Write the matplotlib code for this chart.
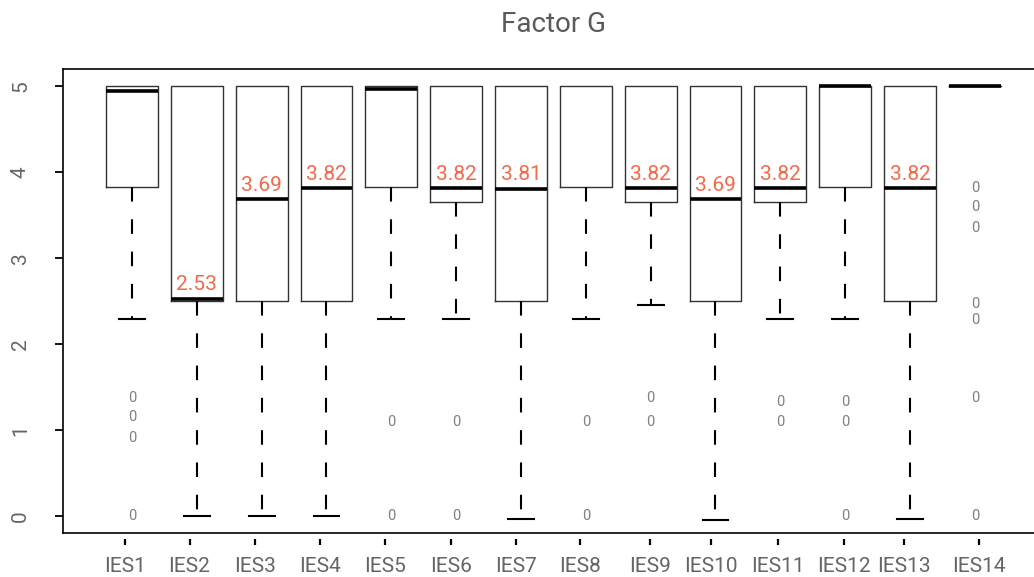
import numpy as np
import matplotlib
matplotlib.use('Agg')
import matplotlib.pyplot as plt

plt.rcParams['font.family'] = ['Roboto', 'DejaVu Sans']

labels = ['IES%d' % i for i in range(1, 15)]
q1 = [3.83, 2.50, 2.50, 2.50, 3.83, 3.65, 2.50, 3.83, 3.65, 2.50, 3.65, 3.83, 2.50, 5.0]
q3 = [5.0] * 14
med = [4.95, 2.53, 3.69, 3.82, 4.97, 3.82, 3.81, 5.0, 3.82, 3.69, 3.82, 5.0, 3.82, 5.0]
whislo = [2.29, 0.0, 0.0, 0.0, 2.29, 2.29, -0.03, 2.29, 2.46, -0.05, 2.29, 2.29, -0.03, 5.0]
whishi = [5.0] * 14
outliers = [
    [1.38, 1.15, 0.91, 0.0],
    [], [], [],
    [1.10, 0.0],
    [1.10, 0.0],
    [],
    [1.10, 0.0],
    [1.38, 1.10],
    [],
    [1.33, 1.10],
    [1.33, 1.10, 0.0],
    [],
    [3.82, 3.60, 3.35, 2.47, 2.28, 1.37, 0.0],
]
# tick marks in the original sit a little off the box centres
tick_pos = [0.895, 1.887, 2.901, 3.898, 4.907, 5.915, 6.918, 7.906, 8.997, 9.927,
            10.957, 11.98, 12.91, 14.07]

stats = []
for i in range(len(labels)):
    stats.append(dict(label=labels[i], q1=q1[i], q3=q3[i], med=med[i],
                      whislo=whislo[i], whishi=whishi[i], fliers=[]))

fig = plt.figure(figsize=(10.34, 5.77), dpi=100)
ax = fig.add_axes([0.0612, 0.0757, 0.948, 0.8042])

pos = np.arange(1, len(labels) + 1)
bp = ax.bxp(stats, positions=pos, widths=0.8, showfliers=False,
            boxprops=dict(color='#333333', linewidth=1.0),
            medianprops=dict(color='black', linewidth=2.6, solid_capstyle='butt'),
            whiskerprops=dict(color='black', linewidth=1.5, linestyle=(0, (7, 8.5))),
            capprops=dict(color='black', linewidth=1.5))

# no staple where the whisker has zero length
for i in range(len(labels)):
    if whishi[i] == q3[i]:
        bp['caps'][2 * i + 1].set_visible(False)
    if whislo[i] == q1[i]:
        bp['caps'][2 * i].set_visible(False)
# the reference shows no median bar on IES8
bp['medians'][7].set_visible(False)

for i in range(len(labels)):
    for v in outliers[i]:
        ax.text(pos[i], v, '0', ha='center', va='center', fontsize=10.5, color='#808080')
    if med[i] < 4.9:
        ax.annotate('%.2f' % med[i], (pos[i], med[i]), xytext=(0, 6),
                    textcoords='offset points', ha='center', va='baseline',
                    fontsize=15, color='#F26A4B')

ax.set_xlim(-0.06, 15.06)
ax.set_ylim(-0.2, 5.2)
ax.set_xticks(tick_pos)
ax.set_xticklabels(labels)
ax.set_yticks([0, 1, 2, 3, 4, 5])
ax.set_yticklabels(['0', '1', '2', '3', '4', '5'], rotation=90, va='center')

ax.spines['bottom'].set_position(('outward', 4))
ax.spines['bottom'].set_visible(False)
ax.plot([0, 1], [0, 0], transform=ax.transAxes, color='black', linewidth=1.2, clip_on=False)
for s in ['left', 'top', 'right']:
    ax.spines[s].set_linewidth(1.2)

ax.tick_params(axis='x', length=4, width=1.6, pad=9, labelsize=15, labelcolor='#666666')
ax.tick_params(axis='y', length=6, width=1.3, pad=18, labelsize=15, labelcolor='#666666')

ax.set_title('Factor G', fontsize=20, color='#5a5a5a', pad=27)

fig.savefig('out.png', dpi=100)
